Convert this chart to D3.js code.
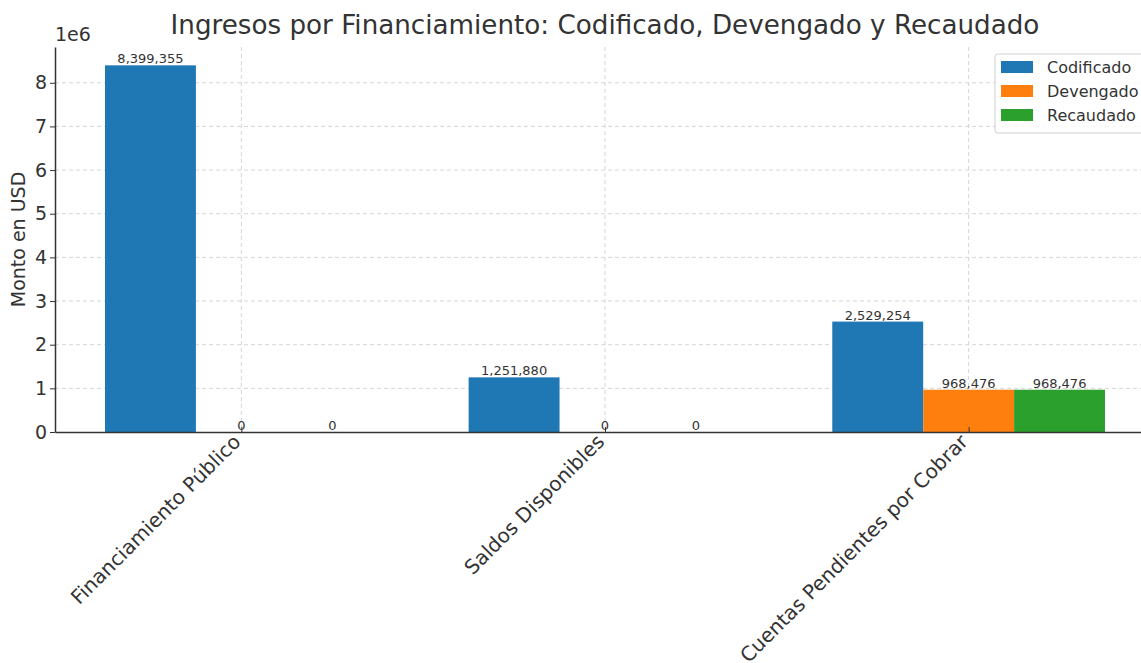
<!DOCTYPE html>
<html>
<head>
<meta charset="utf-8">
<script src="https://cdn.jsdelivr.net/npm/d3@7"></script>
<style>
  body { margin: 0; background: #fff; }
  svg { font-family: "DejaVu Sans", sans-serif; }
</style>
</head>
<body>
<script>
var categories = ['Financiamiento Público', 'Saldos Disponibles', 'Cuentas Pendientes por Cobrar'];
var seriesNames = ['Codificado', 'Devengado', 'Recaudado'];
var codificado = [8399355, 1251880, 2529254];
var devengado = [0, 0, 968476];
var recaudado = [0, 0, 968476];
var yTicks = [0, 1, 2, 3, 4, 5, 6, 7, 8];
var cols = ['#1f77b4', '#ff7f0e', '#2ca02c'];

var seriesValues = [codificado, devengado, recaudado];

var W = 1141, H = 663;
var svg = d3.select('body').append('svg')
  .attr('width', W)
  .attr('height', H);

var mLeft = 55, mTop = 47, mBottom = 432, mRight = 1155;

// x in category units, like matplotlib positions 0..n-1
var barW = 0.25;
var x = d3.scaleLinear()
  .domain([-0.5125, categories.length - 1 + 0.5125])
  .range([mLeft, mRight]);

var y = d3.scaleLinear()
  .domain([0, d3.max(codificado) * 1.05])
  .range([mBottom, mTop]);

var grid = svg.append('g')
  .attr('stroke', '#cccccc')
  .attr('stroke-width', 0.8)
  .attr('stroke-dasharray', '4,3');

grid.selectAll('line.h')
  .data(yTicks.slice(1))
  .enter().append('line')
  .attr('x1', mLeft).attr('x2', W)
  .attr('y1', function (d) { return y(d * 1e6); })
  .attr('y2', function (d) { return y(d * 1e6); });

grid.selectAll('line.v')
  .data(categories)
  .enter().append('line')
  .attr('x1', function (d, i) { return x(i); })
  .attr('x2', function (d, i) { return x(i); })
  .attr('y1', mTop).attr('y2', mBottom);

var groups = svg.append('g')
  .selectAll('g')
  .data(seriesNames)
  .enter().append('g')
  .attr('fill', function (d, i) { return cols[i]; });

groups.selectAll('rect')
  .data(function (d, s) {
    return seriesValues[s].map(function (v, i) { return { s: s, i: i, v: v }; });
  })
  .enter().append('rect')
  .attr('x', function (d) { return x(d.i + (d.s - 1) * barW - barW / 2); })
  .attr('width', function (d) { return x(barW) - x(0); })
  .attr('y', function (d) { return y(d.v); })
  .attr('height', function (d) { return mBottom - y(d.v); });

var fmt = d3.format(',');
groups.selectAll('text')
  .data(function (d, s) {
    return seriesValues[s].map(function (v, i) { return { s: s, i: i, v: v }; });
  })
  .enter().append('text')
  .attr('x', function (d) { return x(d.i + (d.s - 1) * barW); })
  .attr('y', function (d) { return y(d.v) - 2; })
  .attr('text-anchor', 'middle')
  .attr('fill', '#333')
  .attr('font-size', 13)
  .text(function (d) { return fmt(d.v); });

// axes
var yAxis = svg.append('g')
  .attr('transform', 'translate(' + mLeft + ',0)')
  .call(d3.axisLeft(y)
    .tickValues(yTicks.map(function (t) { return t * 1e6; }))
    .tickFormat(function (d) { return d / 1e6; })
    .tickSize(5).tickPadding(3).tickSizeOuter(0));
yAxis.select('.domain').attr('stroke', '#333').attr('stroke-width', 1.5);
yAxis.selectAll('.tick line').attr('stroke', '#333');
yAxis.selectAll('.tick text').attr('font-size', 19).attr('fill', '#333')
  .attr('font-family', '"DejaVu Sans", sans-serif');

var xAxis = svg.append('g')
  .attr('transform', 'translate(0,' + mBottom + ')')
  .call(d3.axisBottom(x)
    .tickValues(d3.range(categories.length))
    .tickFormat(function (i) { return categories[i]; })
    .tickSize(5).tickSizeOuter(0));
xAxis.select('.domain').attr('stroke', '#333').attr('stroke-width', 1.5);
xAxis.selectAll('.tick line').attr('stroke', '#333').attr('y2', -5);
xAxis.selectAll('.tick text')
  .attr('font-size', 20).attr('fill', '#333')
  .attr('font-family', '"DejaVu Sans", sans-serif')
  .attr('text-anchor', 'end')
  .attr('y', 0).attr('dy', 0)
  .attr('transform', 'translate(0,11) rotate(-45)');

svg.append('text')
  .attr('x', mLeft)
  .attr('y', 41)
  .attr('font-size', 19)
  .attr('fill', '#333')
  .text('1e6');

svg.append('text')
  .attr('transform', 'translate(25,' + ((mTop + mBottom) / 2) + ') rotate(-90)')
  .attr('text-anchor', 'middle')
  .attr('font-size', 19)
  .attr('fill', '#333')
  .text('Monto en USD');

svg.append('text')
  .attr('x', (mLeft + mRight) / 2)
  .attr('y', 34)
  .attr('text-anchor', 'middle')
  .attr('font-size', 26.2)
  .attr('fill', '#333')
  .text('Ingresos por Financiamiento: Codificado, Devengado y Recaudado');

// legend
var lg = svg.append('g').attr('transform', 'translate(995,54)');
lg.append('rect')
  .attr('width', 160).attr('height', 79)
  .attr('rx', 3)
  .attr('fill', 'white').attr('fill-opacity', 0.8)
  .attr('stroke', '#d0d0d0');
var item = lg.selectAll('g.item')
  .data(seriesNames)
  .enter().append('g')
  .attr('transform', function (d, i) { return 'translate(6,' + (7 + i * 24) + ')'; });
item.append('rect')
  .attr('width', 32).attr('height', 12)
  .attr('fill', function (d, i) { return cols[i]; });
item.append('text')
  .attr('x', 46).attr('y', 12)
  .attr('font-size', 16).attr('fill', '#333')
  .text(function (d) { return d; });
</script>
</body>
</html>
